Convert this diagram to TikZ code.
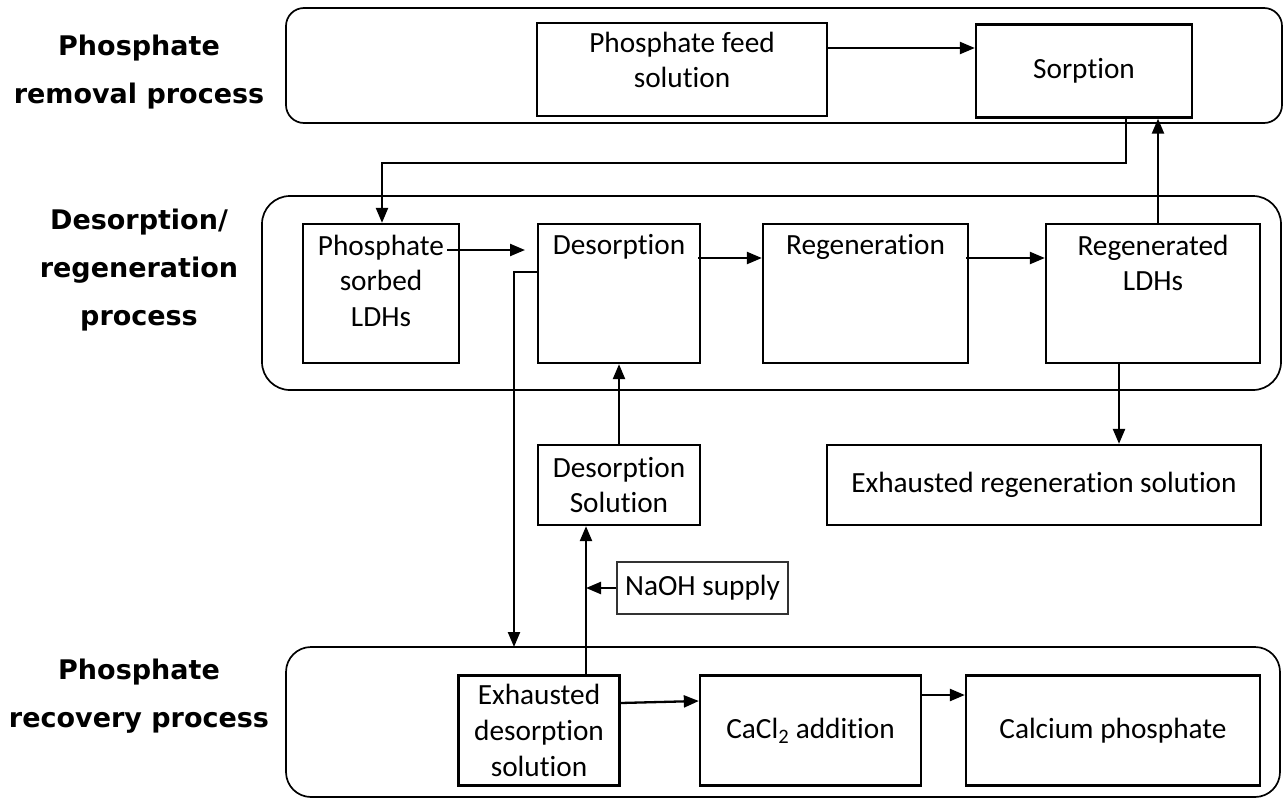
\documentclass[tikz,border=0pt]{standalone}
\usepackage{fontspec}
\setmainfont{Carlito}[Ligatures=NoCommon]
\newfontfamily\labfont{DejaVu Sans}
\usetikzlibrary{arrows.meta}
\begin{document}
\begin{tikzpicture}[x=1pt,y=-1pt,
  box/.style={draw, line width=2.3pt, inner sep=0pt, align=center,
    font=\fontsize{29.3}{35.7}\selectfont},
  thinbox/.style={box, line width=1.4pt, draw=black!80},
  txt/.style={inner sep=0pt, align=center, font=\fontsize{29.3}{35.7}\selectfont},
  grp/.style={draw, line width=1.7pt, inner sep=0pt},
  lab/.style={inner sep=0pt, align=center, font=\labfont\bfseries\fontsize{27}{48}\selectfont},
  arr/.style={line width=2.3pt, -{Triangle[length=15pt,width=12pt]}}]
\useasboundingbox (0,0) rectangle (1286,801);
\fill[white] (0,0) rectangle (1286,801);

% group frames
\node[grp, rounded corners=18pt, minimum width=996pt, minimum height=115pt] (G1) at (784,65.5) {};
\node[grp, rounded corners=28pt, minimum width=1019pt, minimum height=194pt] (G2) at (771.5,293) {};
\node[grp, rounded corners=25pt, minimum width=994pt, minimum height=150pt] (G3) at (783,722) {};

% side labels
\node[lab] (L1) at (139,72) {Phosphate\\removal process};
\node[lab] (L2) at (139,270) {Desorption/\\regeneration\\process};
\node[lab] (L3) at (139,696) {Phosphate\\recovery process};

% boxes
\node[box, minimum width=290pt, minimum height=93pt] (feed) at (682,69.5) {};
\node[txt, anchor=north] (feedt) at (682,31.5) {Phosphate feed\\solution};
\node[box, minimum width=216pt, minimum height=93pt] (sorp) at (1084,71) {Sorption};

\node[box, minimum width=156pt, minimum height=139pt] (sorbed) at (381,293.5) {};
\node[txt, anchor=north] (sorbedt) at (381,234.5) {Phosphate\\sorbed\\LDHs};
\node[box, minimum width=162pt, minimum height=139pt] (desorp) at (619,293.5) {};
\node[txt, anchor=north] (desorpt) at (619,234.5) {Desorption};
\node[box, minimum width=205pt, minimum height=139pt] (regen) at (865.5,293.5) {};
\node[txt, anchor=north] (regent) at (865.5,234.5) {Regeneration};
\node[box, minimum width=214pt, minimum height=139pt] (regd) at (1153,293.5) {};
\node[txt, anchor=north] (regdt) at (1153,234.5) {Regenerated\\LDHs};

\node[box, minimum width=434pt, minimum height=80pt] (exreg) at (1044,485) {Exhausted regeneration solution};
\node[box, minimum width=162pt, minimum height=80pt] (dsol) at (619,485) {Desorption\\Solution};
\node[thinbox, minimum width=171pt, minimum height=52pt] (naoh) at (702.5,588) {NaOH supply};

\node[box, minimum width=161pt, minimum height=110pt] (exdes) at (539,730.5) {Exhausted\\desorption\\solution};
\node[box, minimum width=221pt, minimum height=110pt] (cacl) at (810.5,730.5) {CaCl\textsubscript{2} addition};
\node[box, minimum width=294pt, minimum height=110pt] (calc) at (1113,730.5) {Calcium phosphate};

% helper coordinates
\coordinate (h1) at (0,48);
\coordinate (k1) at (1126,163);
\coordinate (k2) at (382,163);
\coordinate (s1) at (447,250);
\coordinate (s2) at (525,250);
\coordinate (r1) at (698,258);
\coordinate (r2) at (966,258);
\coordinate (u1) at (1158,0);
\coordinate (d1) at (1119,0);
\coordinate (e1) at (0,272);
\coordinate (e2) at (514,272);
\coordinate (e3) at (514,647);
\coordinate (v1) at (586,0);
\coordinate (b1) at (0,703);
\coordinate (b2) at (0,701);
\coordinate (b3) at (0,695);

% connectors
\draw[arr] (feed.east |- h1) -- (sorp.west |- h1);
\draw[arr] (sorp.south -| k1) -- (k1) -- (k2) -- (sorbed.north -| k2);
\draw[arr] (s1) -- (s2);
\draw[arr] (r1) -- (regen.west |- r1);
\draw[arr] (r2) -- (regd.west |- r2);
\draw[arr] (regd.north -| u1) -- (sorp.south -| u1);
\draw[arr] (regd.south -| d1) -- (exreg.north -| d1);
\draw[arr] (desorp.west |- e1) -- (e2) -- (e3);
\draw[arr] (exdes.north -| v1) -- (dsol.south -| v1);
\draw[arr] (naoh.west) -- (naoh.west -| v1);
\draw[arr] (dsol.north) -- (desorp.south);
\draw[arr] (exdes.east |- b1) -- (cacl.west |- b2);
\draw[arr] (cacl.east |- b3) -- (calc.west |- b3);
\end{tikzpicture}
\end{document}
